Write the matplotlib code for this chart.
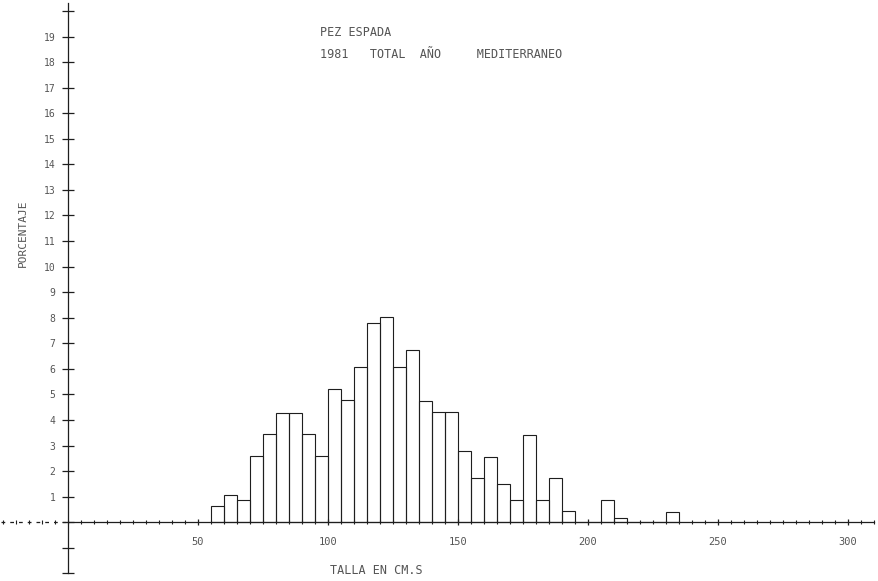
import matplotlib
matplotlib.use("Agg")
import matplotlib.pyplot as plt
import numpy as np

# ---- data ----
bin_left = [55, 60, 65, 70, 75, 80, 85, 90, 95, 100, 105, 110, 115, 120, 125,
            130, 135, 140, 145, 150, 155, 160, 165, 170, 175, 180, 185, 190,
            195, 200, 205, 210, 215, 220, 225, 230]
percent = [0.65, 1.07, 0.86, 2.59, 3.44, 4.29, 4.29, 3.44, 2.59, 5.20, 4.78, 6.09,
           7.79, 8.02, 6.09, 6.74, 4.75, 4.30, 4.30, 2.79, 1.72, 2.57, 1.49, 0.86,
           3.42, 0.86, 1.72, 0.42, 0.0, 0.0, 0.85, 0.18, 0.0, 0.0, 0.0, 0.41]
bin_width = 5
x_major = [50, 100, 150, 200, 250, 300]
x_major_labels = ["50", "100", "150", "200", "250", "300"]
y_ticks = list(range(-2, 21))
y_labels = [str(v) if 1 <= v <= 19 else "" for v in y_ticks]
title1 = "PEZ ESPADA"
title2 = "1981   TOTAL  AÑO     MEDITERRANEO"
xlabel = "TALLA EN CM.S"
ylabel = "PORCENTAJE"

ink = "#1e1e1e"
txt = "#555555"
mono = "DejaVu Sans Mono"

fig = plt.figure(figsize=(8.79, 5.81), dpi=100)
ax = fig.add_axes([0, 0, 1, 1])
ax.set_xlim(-26.15, 311.9)
ax.set_ylim(-2.30, 20.43)

ax.bar(bin_left, percent, width=bin_width, align="edge", fill=False,
       edgecolor=ink, linewidth=0.8)

for s in ["top", "right"]:
    ax.spines[s].set_visible(False)
ax.spines["left"].set_position(("data", 0))
ax.spines["bottom"].set_position(("data", 0))
ax.spines["left"].set_bounds(-2, 20.3)
ax.spines["bottom"].set_bounds(0, 310)
for s in ["left", "bottom"]:
    ax.spines[s].set_color(ink)
    ax.spines[s].set_linewidth(0.9)
# dashed continuation of x axis to the left of zero
ax.hlines(0, ax.get_xlim()[0] + 0.5, 0, colors=ink, linestyles=(0, (3, 4)),
          linewidth=0.9)

ax.set_yticks(y_ticks)
ax.set_yticklabels(y_labels, fontfamily=mono, fontsize=7, color=txt)
ax.tick_params(axis="y", direction="inout", length=8, width=0.9, color=ink,
               pad=5)

ax.set_xticks(x_major)
ax.set_xticklabels(x_major_labels, fontfamily=mono, fontsize=7.5, color=txt)
ax.set_xticks(np.arange(-25, 311, 5), minor=True)
ax.tick_params(axis="x", which="major", direction="inout", length=4,
               width=0.9, color=ink, pad=9)
ax.tick_params(axis="x", which="minor", direction="inout", length=3,
               width=0.8, color=ink)

ax.text(97, 19.15, title1, fontfamily=mono, fontsize=8.5, color=txt,
        ha="left", va="center")
ax.text(97, 18.3, title2, fontfamily=mono, fontsize=8.5, color=txt,
        ha="left", va="center")
ax.text(118.5, -1.87, xlabel, fontfamily=mono, fontsize=8.5, color=txt,
        ha="center", va="center")
ax.text(-17.3, 11.3, ylabel, fontfamily=mono, fontsize=8, color=txt,
        ha="center", va="center", rotation=90)

fig.savefig("out.png", dpi=100, facecolor="white")
